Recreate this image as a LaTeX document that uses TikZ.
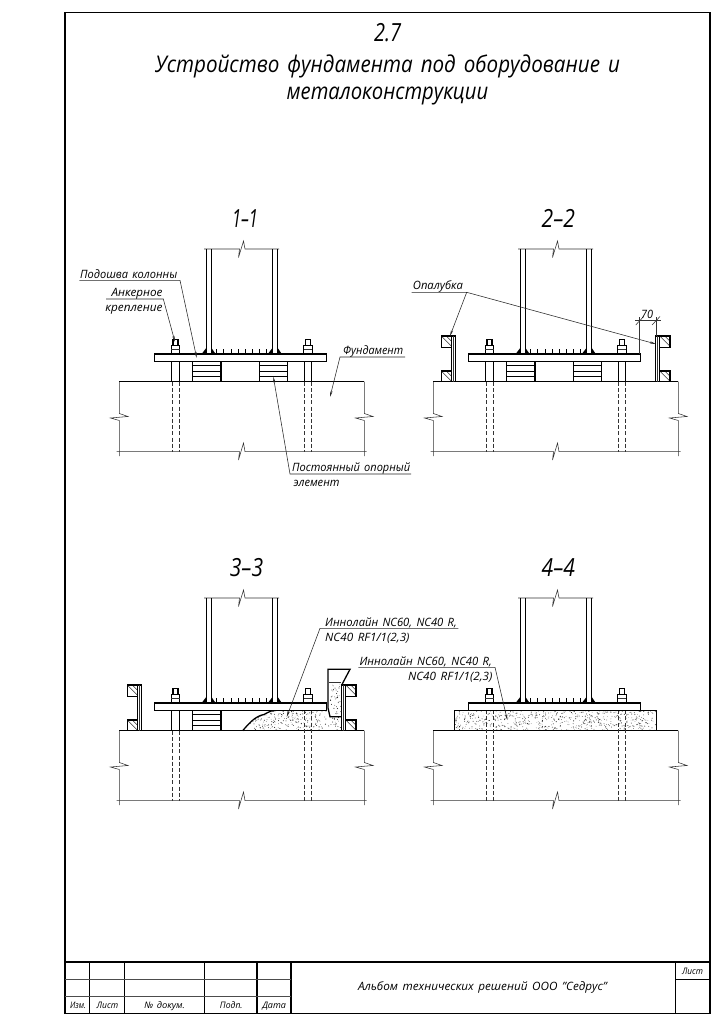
\documentclass[tikz,border=0pt]{standalone}
\usepackage{graphicx}
\usepackage{fontspec}
\setmainfont{Open Sans}[WordSpace=1.5]
\usetikzlibrary{arrows.meta}
\tikzset{
  thin line/.style={line width=0.55pt,black!80},
  main line/.style={line width=1.3pt,black},
  frame line/.style={line width=1.6pt,black},
  hidden line/.style={line width=0.55pt,black!80,dash pattern=on 4pt off 2.2pt},
  leader/.style={line width=0.55pt,black!85,-{Stealth[length=6pt,width=2.2pt]}},
  lab/.style={inner sep=0pt,anchor=base west,font=\itshape\fontsize{11.5}{13}\selectfont},
  labr/.style={lab,anchor=base east},
  tb/.style={inner sep=0pt,anchor=base,font=\itshape\fontsize{9}{10}\selectfont},
  big/.style={inner sep=0pt,anchor=base,font=\itshape\fontsize{25}{28}\selectfont},
  ttl/.style={inner sep=0pt,anchor=base,font=\itshape\fontsize{23}{26}\selectfont},
}
\newcommand\fw[2]{\resizebox{#1pt}{\height}{#2}}
% column, plate, foundation (local coordinates of section 1-1)
\newcommand\foundation{%
  \draw[thin line] (116.5,451.7) -- (239.5,451.7) -- (238.5,460) -- (243.5,443) -- (245,451.7) -- (366.7,451.7);
  \draw[thin line] (119.3,381.7) -- (119.3,413.5) -- (128,416.5) -- (110.5,418) -- (119.3,420.5) -- (119.3,456);
  \draw[thin line] (364.3,381.7) -- (364.3,413.5) -- (373,416.5) -- (355.5,418) -- (364.3,420.5) -- (364.3,456);
  \draw[main line] (119.3,381.7) -- (364.3,381.7);
}
\newcommand\column{%
  \draw[thin line] (204,249) -- (239.5,249) -- (238.5,257.5) -- (243.5,241) -- (245,249) -- (279,249);
  \foreach \a in {206.6,272.8}{
    \draw[main line] (\a,249) -- (\a,354);
    \draw[main line] (\a+4.6,249) -- (\a+4.6,354);
    \fill (\a-5,354) -- (\a,347.5) -- (\a,354) -- cycle;
    \fill (\a+4.6,347.5) -- (\a+9,354) -- (\a+4.6,354) -- cycle;
  }
  \foreach \a in {216.7,223.8,...,267}{\draw[line width=.8pt] (\a,349) -- (\a,354);}
}
\newcommand\plate{\draw[main line,fill=white] (154.3,354) rectangle (326.3,361.2);}
\newcommand\nut[1]{%
  \draw[main line,fill=white] (#1-2.4,339.7) rectangle (#1+2.4,345.7);
  \draw[main line,fill=white] (#1-4.2,345.7) rectangle (#1+4.2,354);
  \draw[thin line] (#1-4.2,349.7) -- (#1+4.2,349.7);
}
\newcommand\shank[1]{%
  \draw[main line] (#1-3.8,361.2) -- (#1-3.8,381.7) (#1+3.8,361.2) -- (#1+3.8,381.7);
  \draw[hidden line] (#1-3.6,381.7) -- (#1-3.6,451.7) (#1+3.6,381.7) -- (#1+3.6,451.7);
}
\newcommand\dashbolt[1]{%
  \draw[hidden line] (#1-3.6,361.2) -- (#1-3.6,451.7) (#1+3.6,361.2) -- (#1+3.6,451.7);
}
\newcommand\pack[1]{%
  \draw[main line] (#1,361.2) -- (#1,381.7) (#1+28.3,361.2) -- (#1+28.3,381.7);
  \draw[line width=.8pt] (#1,365.7) -- +(28.3,0) (#1,371) -- +(28.3,0) (#1,376.7) -- +(28.3,0);
}
\newcommand\hblock[4]{% x0 y0 x1 y1
  \begin{scope}
    \clip (#1,#2) rectangle (#3,#4);
    \draw[thin line] (#1,#2) -- ++(12,12) (#1+5,#2) -- ++(12,12);
  \end{scope}
  \draw[main line] (#1,#2) rectangle (#3,#4);
}
\newcommand\formL[1]{% plank left edge, blocks on the left
  \hblock{#1-10}{336}{#1}{347.3}
  \hblock{#1-10}{371}{#1}{381.7}
  \draw[main line] (#1,336) rectangle (#1+4,381.7);
  \draw[thin line] (#1+2,336) -- (#1+2,381.7);
}
\newcommand\formR[1]{% plank left edge, blocks on the right
  \hblock{#1+4}{336}{#1+14.3}{347.3}
  \hblock{#1+4}{371}{#1+14.3}{381.7}
  \draw[main line] (#1,336) rectangle (#1+4,381.7);
  \draw[thin line] (#1+2,336) -- (#1+2,381.7);
}
\newcommand\speckle[6]{% seed n x y w h
  \pgfmathsetseed{#1}
  \foreach \i in {1,...,#2}{
    \pgfmathsetmacro\xx{#3+rnd*#5}
    \pgfmathsetmacro\yy{#4+rnd*#6}
    \pgfmathsetmacro\rr{0.22+0.35*rnd}
    \fill[black!85] (\xx,\yy) circle[radius=\rr pt];
  }
}
\begin{document}
\begin{tikzpicture}[x=1pt,y=-1pt]
\useasboundingbox (0,0) rectangle (723,1024);
\fill[white] (0,0) rectangle (723,1024);

% sheet frame and title block
\draw[frame line] (65,12.5) rectangle (709.7,1013.3);
\draw[frame line] (65,961.7) -- (709.7,961.7);
\foreach \a in {89.3,124.3,204.3,256.7,291,675.3}{\draw[frame line] (\a,961.7) -- (\a,1013.3);}
\draw[frame line] (675.3,979.3) -- (709.7,979.3);
\draw[line width=.6pt,black!70] (65,979.3) -- (291,979.3) (65,996) -- (291,996);
\node[tb] (t1) at (78,1008.3) {\fw{16}{Изм.}};
\node[tb] (t2) at (107.5,1008.3) {\fw{21.6}{Лист}};
\node[tb] (t3) at (164.6,1008.3) {\fw{40.7}{№ докум.}};
\node[tb] (t4) at (231.3,1008.3) {\fw{22.7}{Подп.}};
\node[tb] (t5) at (274.1,1008.3) {\fw{23.7}{Дата}};
\node[tb] (t6) at (692.5,974) {\fw{21}{Лист}};
\node[lab,anchor=base] (t7) at (482.5,990) {\fw{249}{Альбом технических решений ООО "Седрус"}};

% titles
\node[big] (h0) at (387.5,42) {\fw{27}{2.7}};
\node[ttl] (h1) at (387.5,73) {\fw{465}{Устройство фундамента под оборудование и}};
\node[ttl] (h2) at (387.5,100) {\fw{201.6}{металоконструкции}};
\node[big] (s1) at (245,227) {\fw{26}{1–1}};
\node[big] (s2) at (558.3,227) {\fw{33.3}{2–2}};
\node[big] (s3) at (246.5,576) {\fw{33.3}{3–3}};
\node[big] (s4) at (558.3,576) {\fw{33.3}{4–4}};

% ---------- section 1-1
\foundation
\column
\pack{192.7}\pack{259.3}
\shank{175.5}\shank{308}
\plate
\nut{175.5}\nut{308}

\node[lab] (a1) at (80,278.3) {\fw{97}{Подошва колонны}};
\coordinate (a1l) at (79.3,280.3); \coordinate (a1k) at (180,280.3); \coordinate (a1t) at (196.7,358);
\draw[leader] (a1l) -- (a1k) -- (a1t);
\node[labr] (a2) at (162.7,296.5) {\fw{51}{Анкерное}};
\node[labr] (a3) at (162.7,311.5) {\fw{57}{крепление}};
\coordinate (a2l) at (106,299); \coordinate (a2k) at (163.3,299); \coordinate (a2t) at (175,342);
\draw[leader] (a2l) -- (a2k) -- (a2t);
\node[lab] (a4) at (343,354.5) {\fw{60}{Фундамент}};
\coordinate (a4l) at (405,357); \coordinate (a4k) at (340,357); \coordinate (a4t) at (330,397);
\draw[leader] (a4l) -- (a4k) -- (a4t);
\node[lab] (a5) at (292,471.5) {\fw{118}{Постоянный опорный}};
\node[lab] (a6) at (293.3,486.5) {\fw{46}{элемент}};
\coordinate (a5l) at (411,474); \coordinate (a5k) at (290,474); \coordinate (a5t) at (273.3,376.5);
\draw[leader] (a5l) -- (a5k) -- (a5t);

% ---------- section 2-2
\begin{scope}[shift={(314,0)}]
\foundation
\column
\pack{192.7}\pack{259.3}
\shank{175.5}\shank{308}
\plate
\nut{175.5}\nut{308}
\formL{137.3}
\formR{341.7}
\end{scope}
\node[lab] (b1) at (412.7,289.5) {\fw{50}{Опалубка}};
\coordinate (b1l) at (411.7,292.3); \coordinate (b1k) at (466.7,292.3);
\coordinate (b1t) at (450,336); \coordinate (b2t) at (656,344);
\draw[leader] (b1l) -- (b1k) -- (b1t);
\draw[leader] (b1k) -- (b2t);
% dimension 70
\coordinate (d1) at (639.7,354); \coordinate (d1u) at (639.7,317);
\coordinate (d2) at (656,336); \coordinate (d2u) at (656,317);
\coordinate (d3) at (635,320.7); \coordinate (d4) at (661,320.7);
\draw[thin line] (d1) -- (d1u) (d2) -- (d2u) (d3) -- (d4);
\draw[thin line] (635.7,325) -- (643.7,316.5) (652,325) -- (660,316.5);
\node[lab,anchor=base] (b3) at (647,318) {\fw{12}{70}};

% ---------- section 3-3
\begin{scope}[shift={(0,349)}]
\begin{scope}
  \clip (242.7,381.7) .. controls (250,373) and (256,367) .. (264,365.5) .. controls (270,362) and (273,361.2) .. (277,361.2)
        -- (328,361.2) -- (330,367.7) -- (341.7,367.7) -- (341.7,381.7) -- cycle;
  \speckle{11}{330}{240}{360}{103}{22}
\end{scope}
\draw[main line] (242.7,381.7) .. controls (250,373) and (256,367) .. (264,365.5) .. controls (270,362) and (273,361.2) .. (277,361.2);
\foundation
\column
\pack{192.7}
\shank{175.5}
\dashbolt{308}
\plate
\nut{175.5}\nut{308}
\formL{137.3}
\formR{341.7}
% funnel
\speckle{5}{40}{330}{334}{11}{33}
\draw[main line] (341.7,336) -- (350,320.3) -- (328,320.3) -- (328,359) -- (330,367.7) -- (341.7,367.7);
\draw[thin line] (329,333.7) -- (340.5,333.7);
\end{scope}
\node[lab] (c1) at (325,626) {\fw{131.7}{Иннолайн NC60, NC40 R,}};
\node[lab] (c2) at (325,641) {\fw{84.3}{NC40 RF1/1(2,3)}};
\coordinate (c1l) at (458.3,628.3); \coordinate (c1k) at (320,628.3); \coordinate (c1t) at (286.7,717);
\draw[leader] (c1l) -- (c1k) -- (c1t);

% ---------- section 4-4
\begin{scope}[shift={(314,349)}]
\begin{scope}
  \clip (140.3,361.2) rectangle (342.7,381.7);
  \speckle{23}{620}{140.3}{361.2}{202.4}{20.5}
\end{scope}
\draw[main line] (140.3,381.7) -- (140.3,361.2) -- (342.7,361.2) -- (342.7,381.7);
\foundation
\column
\dashbolt{175.5}\dashbolt{308}
\plate
\nut{175.5}\nut{308}
\end{scope}
\node[lab] (e1) at (359.3,665) {\fw{132.4}{Иннолайн NC60, NC40 R,}};
\node[labr] (e2) at (492.7,680) {\fw{84.4}{NC40 RF1/1(2,3)}};
\coordinate (e1l) at (358.3,667.3); \coordinate (e1k) at (495,667.3); \coordinate (e1t) at (507.3,720);
\draw[leader] (e1l) -- (e1k) -- (e1t);
\end{tikzpicture}
\end{document}
